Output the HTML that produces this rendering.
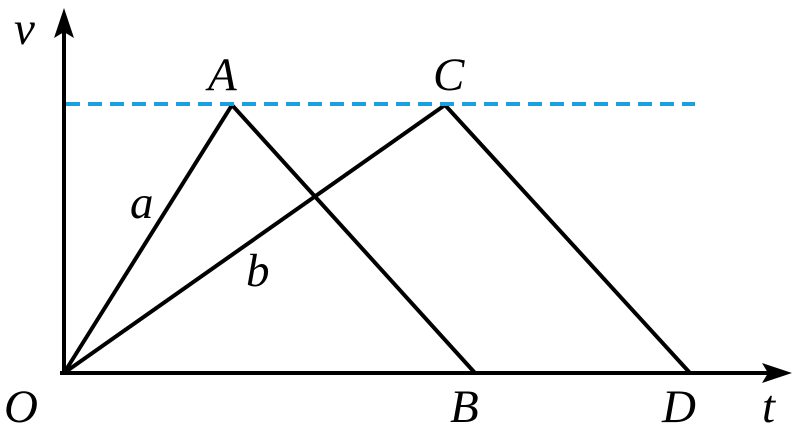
<!DOCTYPE html>
<html><head><style>html,body{margin:0;padding:0;background:#fff;}svg{display:block}</style></head>
<body>
<svg width="800" height="435" viewBox="0 0 800 435" xmlns="http://www.w3.org/2000/svg">
<g stroke="#000" stroke-width="4" fill="none">
<line x1="64" y1="373" x2="64" y2="22"/>
<line x1="60" y1="373" x2="775" y2="373"/>
<polyline points="64,373 232,105 475,373"/>
<polyline points="64,373 445,105 690,373"/>
</g>
<polygon points="64,8 54,38 64,32 74,38" fill="#000"/>
<polygon points="792,373 762,363 768,373 762,383" fill="#000"/>
<line x1="66" y1="104" x2="695" y2="104" stroke="#1a9fe0" stroke-width="4" stroke-dasharray="14,8"/>
<g font-family="Liberation Serif, serif" font-style="italic" font-size="47" fill="#000">
<text x="14" y="44">v</text>
<text x="208" y="90">A</text>
<text x="433" y="90">C</text>
<text x="130" y="218">a</text>
<text x="246" y="286">b</text>
<text x="4" y="422">O</text>
<text x="450" y="422">B</text>
<text x="662" y="422">D</text>
<text x="762" y="422">t</text>
</g>
</svg>
</body></html>
